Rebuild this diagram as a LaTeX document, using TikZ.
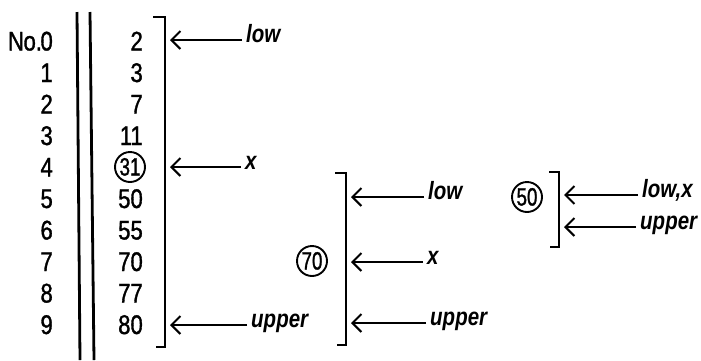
\documentclass[tikz,border=0pt]{standalone}
\usepackage{fontspec}
\setmainfont{Liberation Sans}[FakeStretch=0.82]
\usetikzlibrary{arrows.meta}
\begin{document}
\begin{tikzpicture}[x=1pt,y=-1pt,
  num/.style={font=\fontsize{27}{27}\selectfont\addfontfeature{FakeBold=1.2}, inner sep=0pt, text height=19pt, text depth=0pt, anchor=east},
  lab/.style={font=\fontsize{25}{25}\selectfont\bfseries\itshape, inner ysep=0pt, inner xsep=4pt, anchor=mid west},
  arr/.style={-{Straight Barb[length=9pt,width=18pt,line width=2pt]}, line width=2.1pt},
  brk/.style={line width=2.6pt},
  bar/.style={line width=2.8pt},
  circ/.style={draw, circle, line width=1.9pt, inner sep=0pt, minimum size=30pt,
    font=\fontsize{25}{25}\selectfont\addfontfeature{FakeBold=1.2,FakeStretch=0.75}, text height=17pt, text depth=0pt}]
\useasboundingbox (0,0) rectangle (701,360);
% double vertical lines
\draw[bar] (77,12) -- (80,360);
\draw[bar] (90,12) -- (94,360);
% index column
\node[num] (i0) at (53,41) {N\kern-0.5pt o.\kern-1.5pt0};
\foreach \i in {1,...,9}{
  \node[num] (i\i) at (53,{41+\i*31.5}) {\i};
}
% values column
\foreach \i/\t in {0/2,1/3,2/7,3/11,5/50,6/55,7/70,8/77,9/80}{
  \node[num] (v\i) at (143,{41+\i*31.5}) {\t};
}
\node[circ] (v4) at (130,167) {31};
% bracket 1
\draw[brk] (153,17) -- (165,17) -- (165,347) -- (156,347);
\coordinate (b1) at (170,41);
\node[lab] (l1a) at (242,40) {low};
\node[lab] (l1b) at (241,167) {x};
\node[lab] (l1c) at (247,325) {upper};
\draw[arr] (l1a.mid west) -- (l1a.mid west -| b1);
\draw[arr] (l1b.mid west) -- (l1b.mid west -| b1);
\draw[arr] (l1c.mid west) -- (l1c.mid west -| b1);
% bracket 2
\node[circ] (c70) at (312,261) {70};
\draw[brk] (335,173) -- (346,173) -- (346,345) -- (337,345);
\coordinate (b2) at (351,197);
\node[lab] (l2a) at (424,197) {low};
\node[lab] (l2b) at (423,262) {x};
\node[lab] (l2c) at (426,323) {upper};
\draw[arr] (l2a.mid west) -- (l2a.mid west -| b2);
\draw[arr] (l2b.mid west) -- (l2b.mid west -| b2);
\draw[arr] (l2c.mid west) -- (l2c.mid west -| b2);
% bracket 3
\node[circ] (c50) at (527,197) {50};
\draw[brk] (549,172) -- (559,172) -- (559,247) -- (550,247);
\coordinate (b3) at (564,195);
\node[lab] (l3a) at (638,195) {low,x};
\node[lab] (l3b) at (636,227) {upper};
\draw[arr] (l3a.mid west) -- (l3a.mid west -| b3);
\draw[arr] (l3b.mid west) -- (l3b.mid west -| b3);
\end{tikzpicture}
\end{document}
